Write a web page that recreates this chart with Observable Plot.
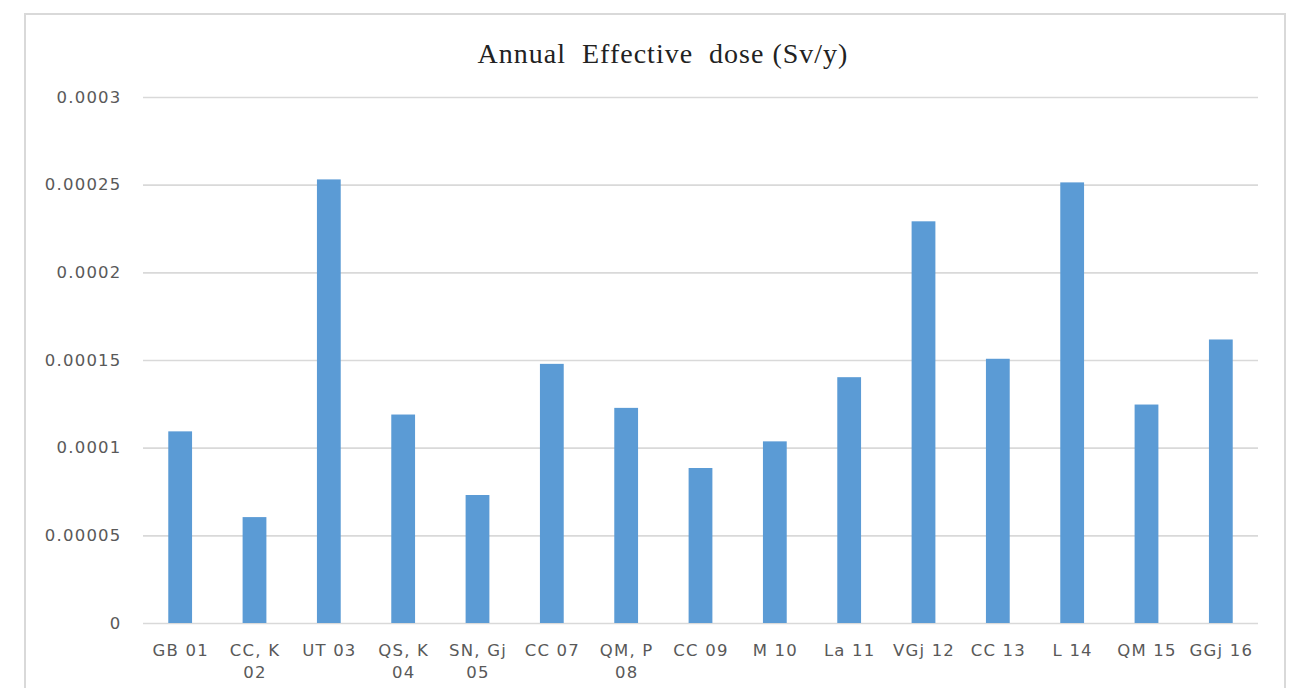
<!DOCTYPE html>
<html>
<head>
<meta charset="utf-8">
<script src="https://cdn.jsdelivr.net/npm/d3@7"></script>
<script src="https://cdn.jsdelivr.net/npm/@observablehq/plot@0.6"></script>
<style>
  html, body { margin: 0; padding: 0; background: #fff; }
  #wrap { position: relative; width: 1290px; height: 688px; overflow: hidden; }
  #frame { position: absolute; left: 24px; top: 13px; width: 1262px; height: 720px;
           border: 2px solid #d9d9d9; box-sizing: border-box; }
  #title { position: absolute; left: 0; width: 1326px; top: 40px; text-align: center;
           font-family: "Liberation Serif", "DejaVu Serif", serif; font-size: 28px; line-height: 28px;
           letter-spacing: 1px; color: #222; white-space: pre; }
  #chart { position: absolute; left: 0; top: 0; }
  #chart svg text { letter-spacing: 1.2px; }
</style>
</head>
<body>
<div id="wrap">
  <div id="frame"></div>
  <div id="title">Annual  Effective  dose (Sv/y)</div>
  <div id="chart"></div>
</div>
<script>
const categories = ["GB 01", "CC, K 02", "UT 03", "QS, K 04", "SN, Gj 05", "CC 07", "QM, P 08",
  "CC 09", "M 10", "La 11", "VGj 12", "CC 13", "L 14", "QM 15", "GGj 16"];
const categoryLabels = ["GB 01", "CC, K\n02", "UT 03", "QS, K\n04", "SN, Gj\n05", "CC 07", "QM, P\n08",
  "CC 09", "M 10", "La 11", "VGj 12", "CC 13", "L 14", "QM 15", "GGj 16"];
const doses = [0.0001093, 0.0000604, 0.000253, 0.0001189, 0.000073, 0.0001478, 0.0001227,
  0.0000884, 0.0001036, 0.0001402, 0.0002291, 0.0001507, 0.0002513, 0.0001246, 0.0001617];
const yTicks = [0, 0.00005, 0.0001, 0.00015, 0.0002, 0.00025, 0.0003];
const yTickLabels = ["0", "0.00005", "0.0001", "0.00015", "0.0002", "0.00025", "0.0003"];

const data = categories.map((c, i) => ({category: c, dose: doses[i]}));
const xLabel = new Map(categories.map((c, i) => [c, categoryLabels[i]]));
const yLabel = new Map(yTicks.map((t, i) => [t, yTickLabels[i]]));

const chart = Plot.plot({
  width: 1290,
  height: 688,
  marginTop: 97,
  marginBottom: 65,
  marginLeft: 143,
  marginRight: 32,
  style: {fontFamily: "'DejaVu Sans', sans-serif", fontSize: "16.5px", color: "#595959", background: "transparent"},
  x: {domain: categories, paddingInner: 0.68, paddingOuter: 0.34, round: false, label: null},
  y: {domain: [0, 0.0003], label: null},
  marks: [
    Plot.ruleY(yTicks, {stroke: "#d9d9d9", strokeWidth: 1.6}),
    Plot.barY(data, {x: "category", y: "dose", fill: "#5b9bd5"}),
    Plot.axisY({ticks: yTicks, tickFormat: d => yLabel.get(d), tickSize: 0, tickPadding: 22,
      fontSize: 16.5, fill: "#595959"}),
    Plot.axisX({tickFormat: d => xLabel.get(d), tickSize: 0, tickPadding: 16,
      fontSize: 16.5, fill: "#595959", lineHeight: 1.38})
  ]
});
document.getElementById("chart").appendChild(chart);
</script>
</body>
</html>
